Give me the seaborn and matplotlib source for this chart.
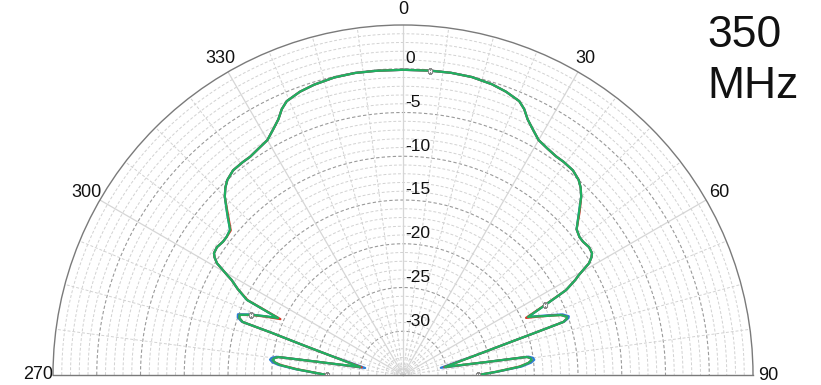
import numpy as np
import pandas as pd
import matplotlib
matplotlib.use("Agg")
import matplotlib.pyplot as plt
import matplotlib.transforms as mtransforms
import seaborn as sns

sns.set_theme(style="white")
plt.rcParams['font.family'] = ['Liberation Sans', 'DejaVu Sans']

# Azimuth angles in degrees (0 = boresight, negative = left half shown as 270..360)
angles_deg = [
    -90, -86.9, -85.35, -84.4, -83.4, -82.5, -81.8, -81.2, -79.5, -75.1,
    -73.3, -72.2, -71.7, -70.8, -69.8, -68.4, -67.0, -65.5, -64.3, -62.5,
    -61.0, -60.4, -59.0, -58.0, -57.2, -55.5, -53.5, -52.0, -50.0, -47.4,
    -45.0, -43.5, -42.0, -39.7, -37.0, -35.0, -32.5, -30.0, -28.0, -26.0,
    -24.5, -23.0, -20.0, -17.0, -13.0, -9.0, -5.0,
    0.0,
    5.0, 9.0, 13.0, 17.0, 20.0, 23.0, 24.5, 26.0, 28.0, 30.0,
    32.5, 35.0, 37.0, 39.7, 42.0, 43.5, 45.0, 47.4, 50.0, 52.0,
    53.5, 55.5, 57.2, 58.0, 59.0, 60.4, 61.1, 62.5, 63.8, 65.1,
    66.5, 67.7, 69.2, 70.5, 71.0, 71.7, 72.3, 73.2, 74.9, 79.2,
    81.2, 81.7, 82.5, 83.4, 84.5, 85.9, 88.0, 90,
]

# Normalised gain in dB for three measurement runs
gain_run3 = [
    -26.3, -22.8, -20.9, -20.3, -20.0, -20.2, -20.6, -25.2, -30.0, -26.5,
    -22.9, -19.3, -15.7, -15.2, -15.1, -16.3, -17.8, -19.3, -15.2, -13.7,
    -12.6, -11.9, -10.2, -9.6, -9.3, -9.2, -9.4, -9.4, -9.2, -7.7,
    -6.2, -5.5, -5.0, -4.6, -4.55, -4.55, -4.3, -4.0, -3.3, -2.5,
    -1.6, -1.0, -0.55, -0.3, -0.1, -0.05, -0.1,
    -0.12,
    -0.08, -0.03, -0.05, -0.25, -0.55, -1.0, -1.6, -2.5, -3.3, -4.0,
    -4.3, -4.5, -4.5, -4.6, -5.0, -5.5, -6.2, -7.7, -9.1, -9.4,
    -9.4, -9.2, -9.3, -9.6, -10.2, -11.9, -12.5, -14.0, -16.9, -19.25,
    -18.2, -17.2, -15.7, -15.1, -15.2, -15.7, -19.3, -22.9, -26.5, -30.1,
    -25.2, -20.7, -20.3, -20.2, -20.6, -21.6, -24.3, -26.4,
]

gain_run2 = [
    -26.3, -22.9, -21.0, -20.3, -20.0, -20.2, -20.6, -25.2, -30.2, -26.5,
    -22.9, -19.3, -15.7, -15.2, -15.1, -16.4, -17.9, -19.6, -15.3, -13.7,
    -12.6, -11.9, -10.2, -9.6, -9.3, -9.2, -9.4, -9.4, -9.3, -7.8,
    -6.2, -5.5, -5.0, -4.6, -4.55, -4.55, -4.3, -4.0, -3.3, -2.5,
    -1.6, -1.0, -0.55, -0.3, -0.1, -0.05, -0.1,
    -0.12,
    -0.08, -0.03, -0.05, -0.25, -0.55, -1.0, -1.6, -2.5, -3.3, -4.0,
    -4.3, -4.5, -4.5, -4.6, -5.0, -5.5, -6.2, -7.6, -9.1, -9.4,
    -9.4, -9.2, -9.3, -9.6, -10.2, -11.9, -12.5, -14.0, -17.0, -19.5,
    -18.3, -17.2, -15.7, -15.1, -15.2, -15.7, -19.3, -22.9, -26.5, -30.2,
    -25.2, -20.7, -20.3, -20.2, -20.6, -21.7, -24.3, -26.4,
]

gain_run1 = [
    -26.3, -22.7, -20.7, -20.0, -19.7, -19.9, -20.4, -25.2, -30.6, -26.5,
    -22.9, -19.3, -15.6, -15.0, -14.9, -16.2, -17.8, -19.3, -15.2, -13.7,
    -12.6, -11.9, -10.2, -9.6, -9.3, -9.2, -9.4, -9.4, -9.2, -7.7,
    -6.2, -5.5, -5.0, -4.6, -4.55, -4.55, -4.3, -4.0, -3.3, -2.5,
    -1.6, -1.0, -0.55, -0.3, -0.1, -0.05, -0.1,
    -0.12,
    -0.08, -0.03, -0.05, -0.25, -0.55, -1.0, -1.6, -2.5, -3.3, -4.0,
    -4.3, -4.5, -4.5, -4.6, -5.0, -5.5, -6.2, -7.7, -9.1, -9.4,
    -9.4, -9.2, -9.3, -9.6, -10.2, -11.9, -12.5, -14.0, -16.9, -19.25,
    -18.1, -17.0, -15.5, -14.9, -15.0, -15.6, -19.3, -22.9, -26.5, -30.6,
    -25.2, -20.5, -20.0, -19.9, -20.3, -21.4, -24.2, -26.4,
]

run_names = ["run 1", "run 2", "run 3"]
run_colors = ["#2a7fd6", "#d63a2a", "#1fb062"]

# Marker positions (indices into the angle list)
marker_idx = [0, 15, 48, 76, 95]

radial_ticks = [0, -5, -10, -15, -20, -25, -30]
angle_ticks = [-90, -60, -30, 0, 30, 60, 90]
angle_labels = ["270", "300", "330", "0", "30", "60", "90"]
r_min, r_max = -35, 5

df = pd.DataFrame({
    "theta": np.deg2rad(angles_deg * 3),
    "gain": gain_run1 + gain_run2 + gain_run3,
    "run": [run_names[0]] * len(angles_deg) + [run_names[1]] * len(angles_deg)
           + [run_names[2]] * len(angles_deg),
})

W, H = 821, 385
fig = plt.figure(figsize=(W / 100, H / 100), dpi=100)
# square box; the half-disc fills its middle band
ax = fig.add_axes([53 / W, (10 - 175) / H, 700 / W, 700 / H], projection="polar")
ax.set_theta_zero_location("N")
ax.set_theta_direction(-1)
ax.set_thetamin(-90)
ax.set_thetamax(90)
ax.set_ylim(r_min, r_max)
ax.grid(False)
ax.set_facecolor("white")

# Grid: circles every 1 dB (darker every 5 dB), spokes every 7.5 degrees
th = np.linspace(-np.pi / 2, np.pi / 2, 400)
for r in range(r_min + 1, r_max):
    if r % 5 == 0:
        ax.plot(th, np.full_like(th, r), color="#9a9a9a", lw=0.8,
                ls=(0, (3, 2)), zorder=1)
    else:
        ax.plot(th, np.full_like(th, r), color="#d2d2d2", lw=0.7,
                ls=(0, (3, 2)), zorder=1)
for a in np.arange(-82.5, 90, 7.5):
    if abs(a) % 30 == 0:
        ax.plot([np.deg2rad(a)] * 2, [r_min, r_max], color="#d6d6d6",
                lw=0.9, zorder=1)
    else:
        ax.plot([np.deg2rad(a)] * 2, [r_min, r_max], color="#d2d2d2",
                lw=0.7, ls=(0, (3, 2)), zorder=1)

sns.lineplot(data=df, x="theta", y="gain", hue="run", hue_order=run_names,
             palette=run_colors, sort=False, estimator=None, legend=False,
             lw=1.6, ax=ax, zorder=3)

th_arr = np.deg2rad(angles_deg)
ax.plot(th_arr[marker_idx], np.array(gain_run3)[marker_idx], ls="none",
        marker="s", ms=3.5, mfc="white", mec="#8a8a8a", mew=0.8, zorder=4)

ax.set_xlabel("")
ax.set_ylabel("")
ax.set_xticks(np.deg2rad(angle_ticks))
ax.set_xticklabels(angle_labels, fontsize=13, color="#111111")
ax.tick_params(axis="x", pad=4, length=0)
ax.set_yticks([])

off = mtransforms.offset_copy(ax.transData, fig=fig, x=2, y=10, units="dots")
for r in radial_ticks:
    ax.text(0, r, str(r), transform=off, ha="left", va="center",
            fontsize=12.5, color="#111111", zorder=5)

for name in ["polar", "start", "end"]:
    ax.spines[name].set_color("#7a7a7a")
    ax.spines[name].set_linewidth(1.0)

fig.text(707 / W, 1 - 47 / H, "350", fontsize=32, ha="left", va="baseline",
         color="#111111")
fig.text(707 / W, 1 - 98 / H, "MHz", fontsize=32, ha="left", va="baseline",
         color="#111111")

fig.savefig("out.png", dpi=100, facecolor="white")
